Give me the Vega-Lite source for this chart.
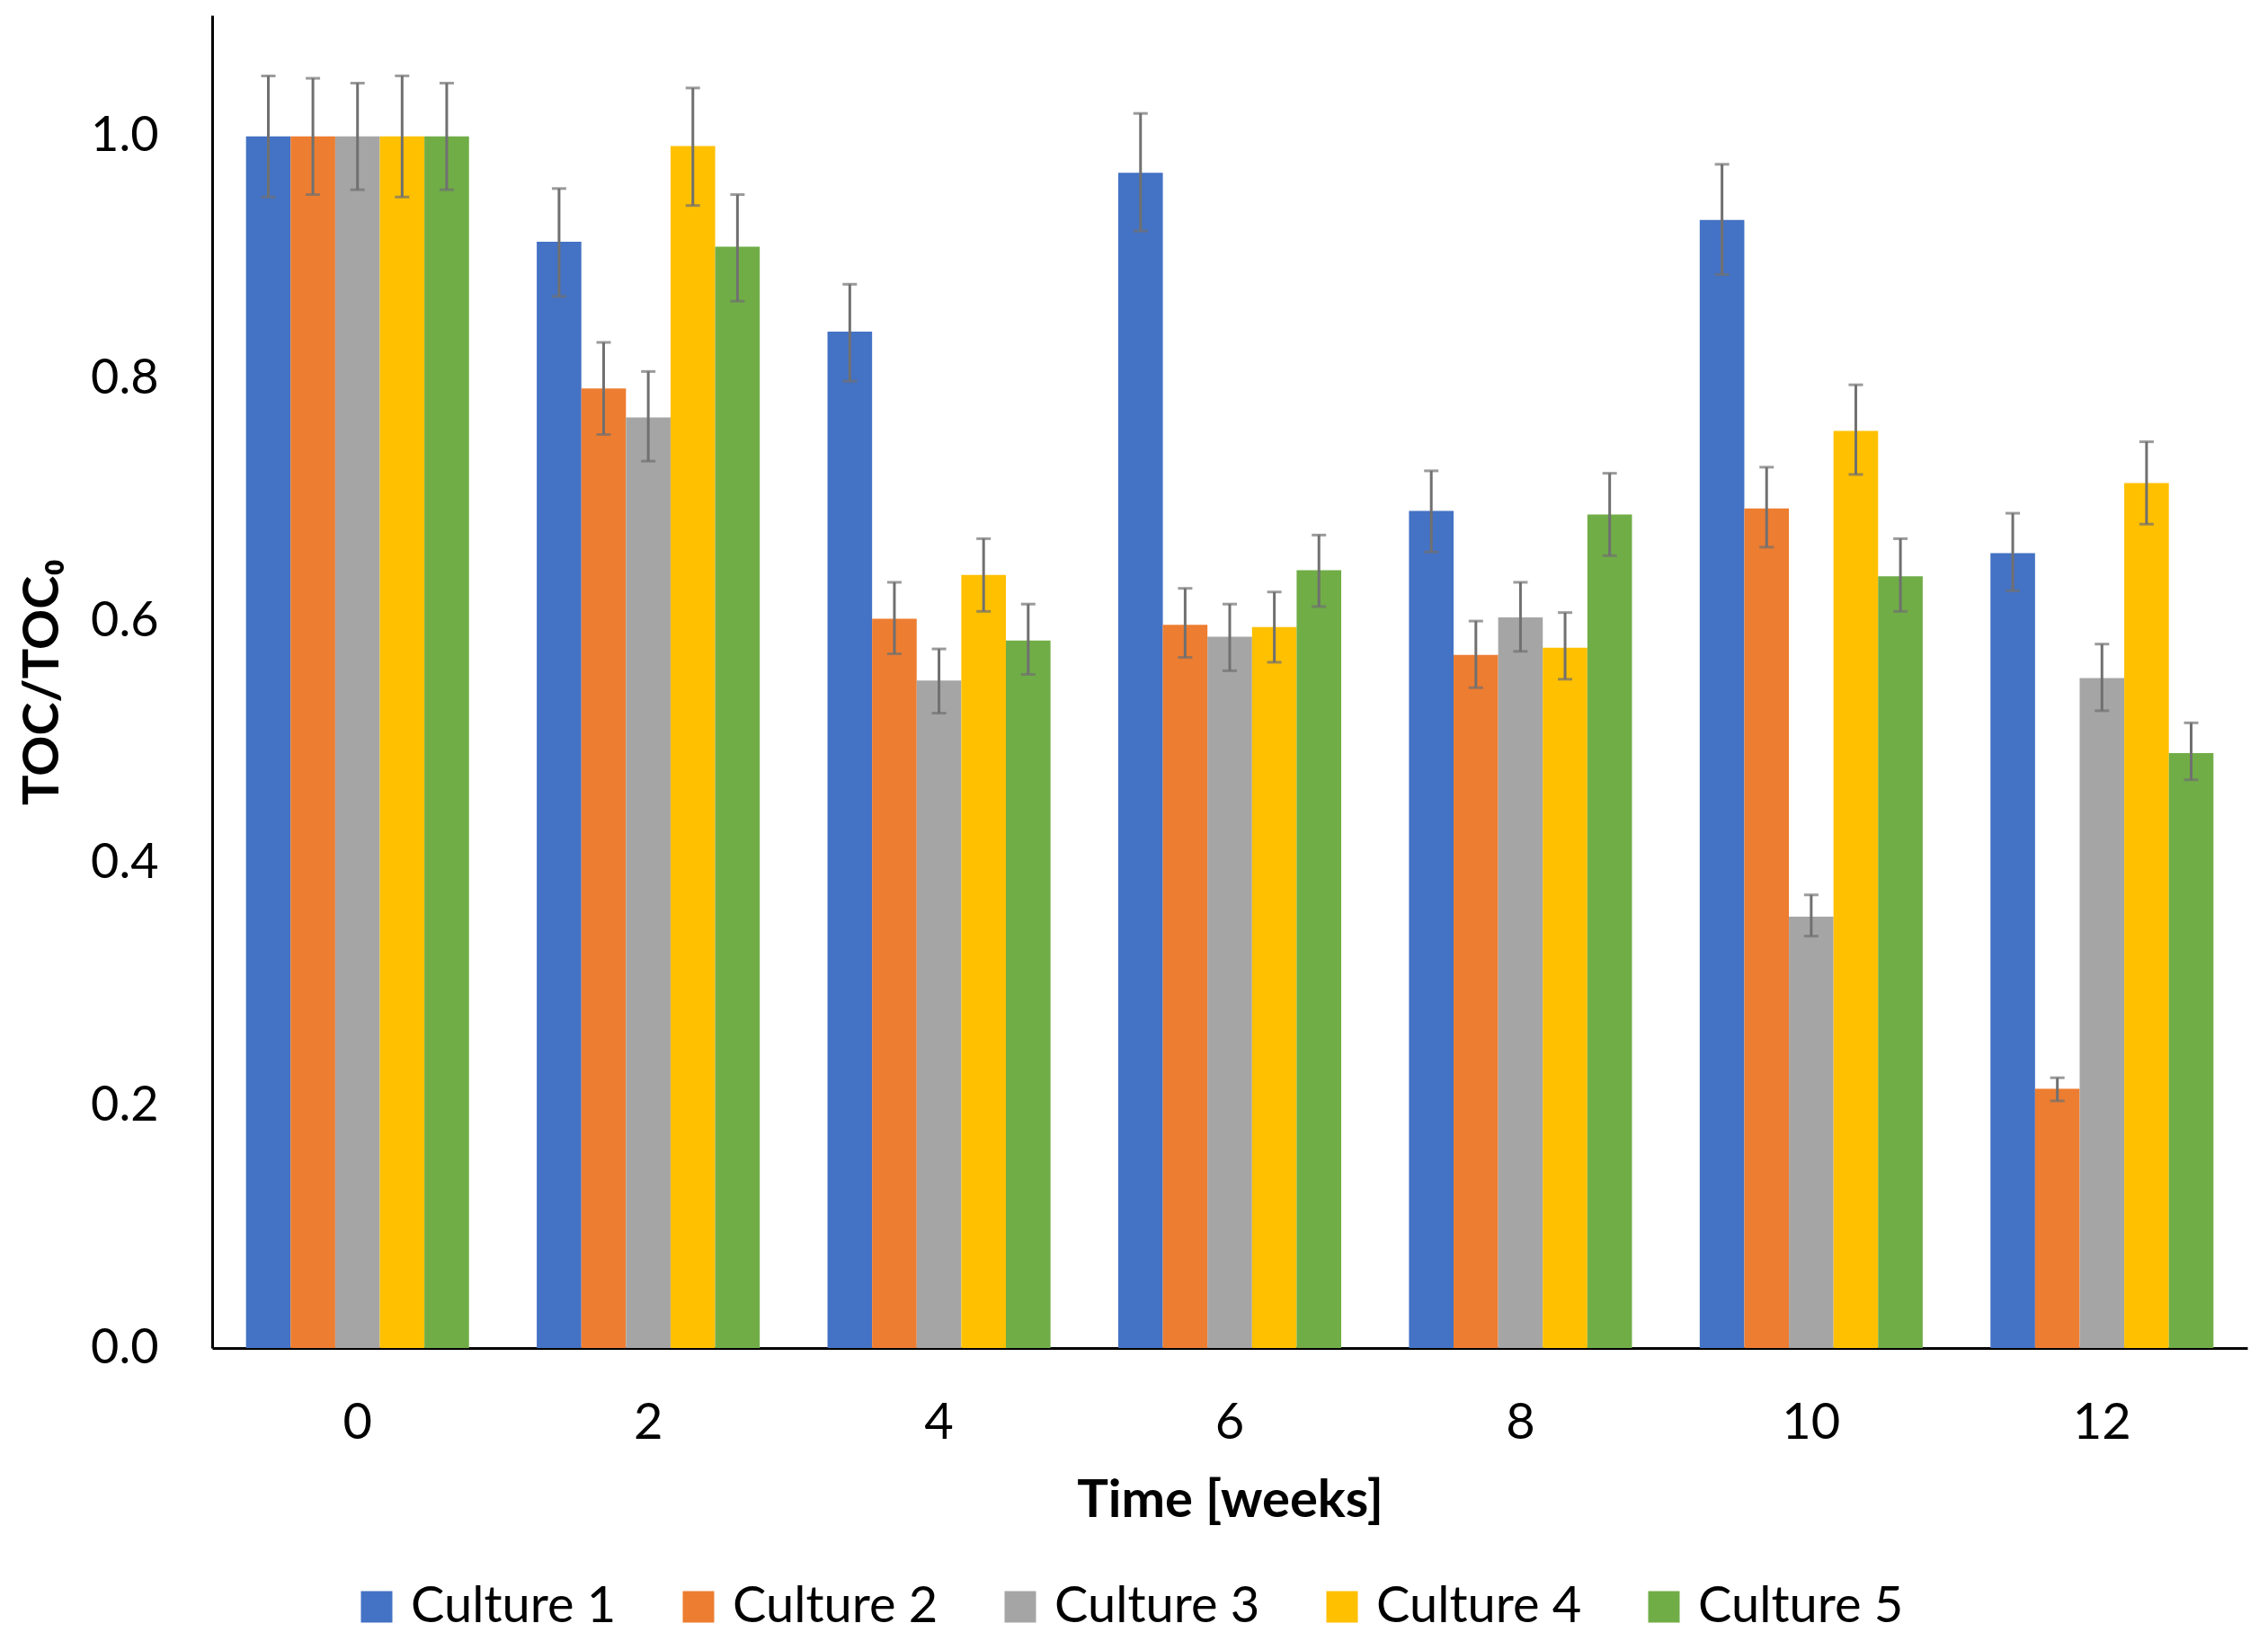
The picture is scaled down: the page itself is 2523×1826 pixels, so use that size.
{
  "$schema": "https://vega.github.io/schema/vega-lite/v6.json",
  "autosize": {"type": "none"},
  "padding": {"left": 236, "top": 17, "right": 23, "bottom": 326},
  "width": 2264,
  "height": 1483,
  "background": "white",
  "config": {
    "view": {"stroke": null},
    "font": "Lato",
    "axis": {"grid": false, "ticks": false, "labelColor": "#000000", "titleColor": "#000000"}
  },
  "data": {
    "values": [
      {"week": 0, "culture": "Culture 1", "value": 1.0, "lo": 0.950, "hi": 1.050},
      {"week": 0, "culture": "Culture 2", "value": 1.0, "lo": 0.952, "hi": 1.048},
      {"week": 0, "culture": "Culture 3", "value": 1.0, "lo": 0.956, "hi": 1.044},
      {"week": 0, "culture": "Culture 4", "value": 1.0, "lo": 0.950, "hi": 1.050},
      {"week": 0, "culture": "Culture 5", "value": 1.0, "lo": 0.956, "hi": 1.044},
      {"week": 2, "culture": "Culture 1", "value": 0.913, "lo": 0.868, "hi": 0.957},
      {"week": 2, "culture": "Culture 2", "value": 0.792, "lo": 0.754, "hi": 0.830},
      {"week": 2, "culture": "Culture 3", "value": 0.768, "lo": 0.732, "hi": 0.806},
      {"week": 2, "culture": "Culture 4", "value": 0.992, "lo": 0.943, "hi": 1.040},
      {"week": 2, "culture": "Culture 5", "value": 0.909, "lo": 0.864, "hi": 0.952},
      {"week": 4, "culture": "Culture 1", "value": 0.839, "lo": 0.798, "hi": 0.878},
      {"week": 4, "culture": "Culture 2", "value": 0.602, "lo": 0.573, "hi": 0.632},
      {"week": 4, "culture": "Culture 3", "value": 0.551, "lo": 0.524, "hi": 0.577},
      {"week": 4, "culture": "Culture 4", "value": 0.638, "lo": 0.608, "hi": 0.668},
      {"week": 4, "culture": "Culture 5", "value": 0.584, "lo": 0.556, "hi": 0.614},
      {"week": 6, "culture": "Culture 1", "value": 0.970, "lo": 0.922, "hi": 1.019},
      {"week": 6, "culture": "Culture 2", "value": 0.597, "lo": 0.570, "hi": 0.627},
      {"week": 6, "culture": "Culture 3", "value": 0.587, "lo": 0.559, "hi": 0.614},
      {"week": 6, "culture": "Culture 4", "value": 0.595, "lo": 0.566, "hi": 0.624},
      {"week": 6, "culture": "Culture 5", "value": 0.642, "lo": 0.612, "hi": 0.671},
      {"week": 8, "culture": "Culture 1", "value": 0.691, "lo": 0.657, "hi": 0.724},
      {"week": 8, "culture": "Culture 2", "value": 0.572, "lo": 0.545, "hi": 0.600},
      {"week": 8, "culture": "Culture 3", "value": 0.603, "lo": 0.575, "hi": 0.632},
      {"week": 8, "culture": "Culture 4", "value": 0.578, "lo": 0.552, "hi": 0.607},
      {"week": 8, "culture": "Culture 5", "value": 0.688, "lo": 0.654, "hi": 0.722},
      {"week": 10, "culture": "Culture 1", "value": 0.931, "lo": 0.886, "hi": 0.977},
      {"week": 10, "culture": "Culture 2", "value": 0.693, "lo": 0.661, "hi": 0.727},
      {"week": 10, "culture": "Culture 3", "value": 0.356, "lo": 0.340, "hi": 0.374},
      {"week": 10, "culture": "Culture 4", "value": 0.757, "lo": 0.721, "hi": 0.795},
      {"week": 10, "culture": "Culture 5", "value": 0.637, "lo": 0.608, "hi": 0.668},
      {"week": 12, "culture": "Culture 1", "value": 0.656, "lo": 0.625, "hi": 0.689},
      {"week": 12, "culture": "Culture 2", "value": 0.214, "lo": 0.204, "hi": 0.223},
      {"week": 12, "culture": "Culture 3", "value": 0.553, "lo": 0.526, "hi": 0.581},
      {"week": 12, "culture": "Culture 4", "value": 0.714, "lo": 0.680, "hi": 0.748},
      {"week": 12, "culture": "Culture 5", "value": 0.491, "lo": 0.469, "hi": 0.516}
    ]
  },
  "encoding": {
    "x": {
      "field": "week", "type": "ordinal",
      "scale": {"paddingInner": 0.233, "paddingOuter": 0.1165},
      "axis": {
        "title": "Time [weeks]", "labelAngle": 0, "labelFontSize": 56, "labelPadding": 56,
        "titleFontSize": 58, "titleFontWeight": "bold", "titlePadding": 30,
        "domainColor": "#000000", "domainWidth": 3
      }
    },
    "xOffset": {"field": "culture", "type": "nominal", "scale": {"paddingInner": 0, "paddingOuter": 0}}
  },
  "layer": [
    {
      "mark": {"type": "bar"},
      "encoding": {
        "y": {
          "field": "value", "type": "quantitative",
          "scale": {"domain": [0, 1.1], "nice": false, "zero": true},
          "axis": {
            "title": "TOC/TOC₀", "values": [0, 0.2, 0.4, 0.6, 0.8, 1.0], "format": ".1f",
            "labelFontSize": 54, "labelPadding": 60,
            "titleFontSize": 56, "titleFontWeight": "bold", "titlePadding": 24,
            "domainColor": "#000000", "domainWidth": 3
          }
        },
        "color": {
          "field": "culture", "type": "nominal",
          "scale": {"domain": ["Culture 1", "Culture 2", "Culture 3", "Culture 4", "Culture 5"],
                    "range": ["#4472C4", "#ED7D31", "#A5A5A5", "#FFC000", "#70AD47"]},
          "legend": {
            "title": null, "orient": "none", "direction": "horizontal",
            "legendX": 155, "legendY": 1743, "padding": 0,
            "symbolType": "square", "symbolSize": 1225, "symbolStrokeWidth": 0, "symbolOpacity": 1,
            "labelFontSize": 56, "labelOffset": 10, "labelLimit": 0, "columnPadding": 63, "labelColor": "#000000"
          }
        }
      }
    },
    {
      "mark": {"type": "rule", "color": "#707070", "strokeWidth": 3},
      "encoding": {
        "y": {"field": "lo", "type": "quantitative"},
        "y2": {"field": "hi"}
      }
    },
    {
      "mark": {"type": "tick", "color": "#707070", "thickness": 3, "size": 16},
      "encoding": {"y": {"field": "lo", "type": "quantitative"}}
    },
    {
      "mark": {"type": "tick", "color": "#707070", "thickness": 3, "size": 16},
      "encoding": {"y": {"field": "hi", "type": "quantitative"}}
    }
  ]
}
